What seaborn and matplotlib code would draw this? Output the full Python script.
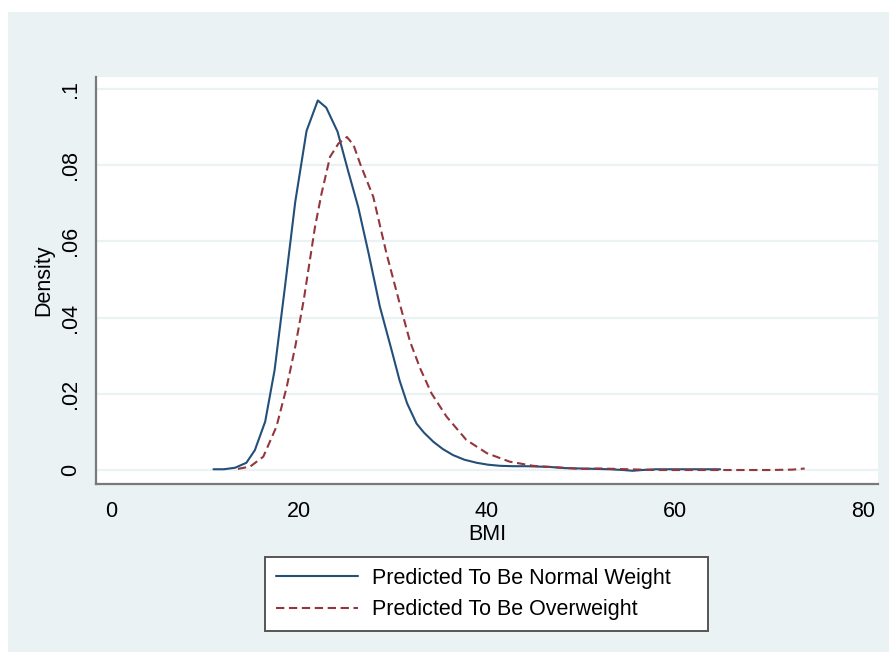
import numpy as np
import pandas as pd
import matplotlib
matplotlib.use("Agg")
import matplotlib.pyplot as plt
from matplotlib.patches import Rectangle
import seaborn as sns

# ---- data ----
normal_bmi = [10.9, 12.0, 13.2, 14.4, 15.3, 16.4, 17.4, 18.5, 19.6, 20.8, 22.0, 22.9,
              24.1, 25.2, 26.3, 27.4, 28.6, 29.9, 30.7, 31.5, 32.5, 33.3, 34.3, 35.3,
              36.4, 37.6, 38.9, 40.1, 41.4, 42.8, 44.2, 45.5, 46.7, 48.3, 49.9, 51.5,
              53.0, 54.5, 55.5, 56.5, 58.0, 59.5, 61.0, 62.5, 64.0, 64.8]
normal_density = [0.0002, 0.0002, 0.0006, 0.0019, 0.0052, 0.0127, 0.0262, 0.0480,
                  0.0704, 0.0890, 0.0970, 0.0951, 0.0888, 0.0787, 0.0690, 0.0569,
                  0.0429, 0.0310, 0.0235, 0.0175, 0.0122, 0.0098, 0.0074, 0.0055,
                  0.0039, 0.0027, 0.0019, 0.0014, 0.0011, 0.0010, 0.0010, 0.0009,
                  0.0008, 0.0005, 0.0004, 0.0003, 0.0002, 0.0000, -0.0002, 0.0000,
                  0.0002, 0.0002, 0.0002, 0.0002, 0.0002, 0.0002]

over_bmi = [13.5, 14.8, 16.2, 17.6, 18.7, 19.6, 20.5, 21.7, 22.4, 23.3, 24.2, 25.1,
            25.8, 26.5, 27.9, 29.3, 30.7, 31.8, 32.9, 34.1, 35.7, 37.8, 40.0, 42.4,
            44.9, 47.4, 49.9, 52.0, 55.0, 58.0, 61.0, 64.0, 67.0, 70.0, 72.5, 73.8]
over_density = [0.0003, 0.0009, 0.0035, 0.0114, 0.0219, 0.0324, 0.0446, 0.0638,
                0.0726, 0.0822, 0.0857, 0.0874, 0.0853, 0.0804, 0.0717, 0.0569,
                0.0438, 0.0338, 0.0266, 0.0201, 0.0140, 0.0079, 0.0044, 0.0022,
                0.0011, 0.0007, 0.0003, 0.0004, 0.0002, 0.0000, 0.0000, 0.0000,
                0.0000, 0.0000, 0.0001, 0.0004]

series_labels = ["Predicted To Be Normal Weight", "Predicted To Be Overweight"]
x_ticks = [0, 20, 40, 60, 80]
y_ticks = [0, 0.02, 0.04, 0.06, 0.08, 0.1]
y_ticklabels = ["0", ".02", ".04", ".06", ".08", ".1"]
x_label = "BMI"
y_label = "Density"

df = pd.concat([
    pd.DataFrame({"BMI": normal_bmi, "Density": normal_density, "group": series_labels[0]}),
    pd.DataFrame({"BMI": over_bmi, "Density": over_density, "group": series_labels[1]}),
], ignore_index=True)

# ---- style ----
sns.set_style("white")
plt.rcParams["font.family"] = ["Liberation Sans", "DejaVu Sans"]
plt.rcParams["text.color"] = "black"
plt.rcParams["axes.labelcolor"] = "black"
BG = "#eaf2f3"
AXIS_GRAY = "#7a7a7a"
FS = 15.5

W, H = 889, 652
fig = plt.figure(figsize=(W / 100, H / 100), dpi=100)
fig.patch.set_facecolor("white")
fig.patches.append(Rectangle((8 / W, 0), 1 - 8 / W, 1 - 12 / H, transform=fig.transFigure,
                             facecolor=BG, edgecolor="none", zorder=-10))

ax = fig.add_axes([96 / W, 1 - 484 / H, (878 - 96) / W, (484 - 77) / H])
ax.set_facecolor("white")

sns.lineplot(data=df, x="BMI", y="Density", hue="group", style="group",
             palette={series_labels[0]: "#234f79", series_labels[1]: "#93363d"},
             dashes={series_labels[0]: "", series_labels[1]: (4, 2.2)},
             sort=False, estimator=None, linewidth=1.5, ax=ax)

handles, labels = ax.get_legend_handles_labels()
if ax.get_legend() is not None:
    ax.get_legend().remove()

ax.set_xlim(-1.6, 81.6)
ax.set_ylim(-0.00367, 0.10315)
ax.set_xticks(x_ticks)
ax.set_xticklabels([str(t) for t in x_ticks])
ax.set_yticks(y_ticks)
ax.set_yticklabels(y_ticklabels, rotation=90, va="center")

ax.yaxis.grid(True, color=BG, linewidth=1.6)
ax.xaxis.grid(False)
ax.set_axisbelow(True)

for s in ["top", "right"]:
    ax.spines[s].set_visible(False)
for s in ["left", "bottom"]:
    ax.spines[s].set_color(AXIS_GRAY)
    ax.spines[s].set_linewidth(1.6)

ax.tick_params(axis="both", direction="out", length=7, width=1.6, color=AXIS_GRAY,
               labelsize=FS, labelcolor="black")
ax.tick_params(axis="x", pad=5)
ax.tick_params(axis="y", pad=4)

ax.set_xlabel(x_label, fontsize=FS, color="black")
ax.set_ylabel(y_label, fontsize=FS, color="black")
ax.xaxis.set_label_coords(0.5, -0.098)
ax.yaxis.set_label_coords(-0.054, 0.5)

leg = fig.legend(handles, labels, loc="center",
                 bbox_to_anchor=(265 / W, 1 - 631 / H, 443 / W, 74 / H),
                 mode="expand", fontsize=FS, frameon=True, fancybox=False,
                 handlelength=3.8, handletextpad=0.65, labelspacing=0.5,
                 borderpad=0.5, borderaxespad=0, labelcolor="black")
leg.get_frame().set_edgecolor("#555555")
leg.get_frame().set_linewidth(1.4)
leg.get_frame().set_facecolor("white")
leg.get_frame().set_alpha(1)

fig.savefig("out.png", dpi=100, facecolor=fig.get_facecolor())
